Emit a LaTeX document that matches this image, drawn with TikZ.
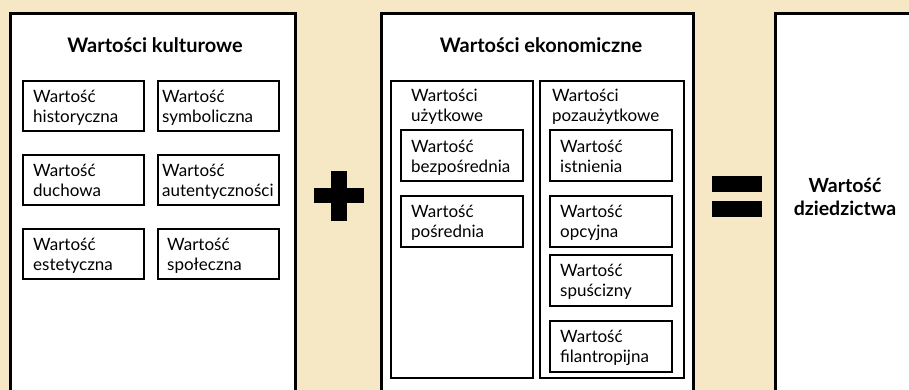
\documentclass[tikz,border=0pt]{standalone}
\usepackage{fontspec}
\setmainfont{Lato}
\definecolor{bg}{HTML}{F6E7C5}
\begin{document}
\begin{tikzpicture}[x=1pt,y=-1pt,
  obox/.style={draw, line width=3pt, fill=white, outer sep=0, inner sep=0, anchor=north west},
  ibox/.style={draw, line width=2pt, outer sep=0, inner sep=0, anchor=north west},
  lbl/.style={anchor=base west, inner sep=0, align=left, font=\fontsize{17}{20}\selectfont},
  ttl/.style={anchor=base, inner sep=0, align=center, font=\bfseries\fontsize{20}{22.5}\selectfont},
  bar/.style={fill=black, inner sep=0, outer sep=0}]
\useasboundingbox (0,0) rectangle (909,390);
\fill[bg] (0,0) rectangle (909,390);
% outer panels
\node[obox, minimum width=285pt, minimum height=377pt] (kult) at (10,14) {};
\node[obox, minimum width=312pt, minimum height=377.5pt] (ekon) at (381,13.5) {};
\node[obox, minimum width=140pt, minimum height=377.2pt] (dzie) at (775,13.8) {};
% titles
\node[ttl] (tkult) at (155,53) {Wartości kulturowe};
\node[ttl] (tekon) at (541,53) {Wartości ekonomiczne};
\node[ttl, font=\bfseries\fontsize{19.5}{22.5}\selectfont] (tdzie) at (845,215) {Wartość\\dziedzictwa};
% cultural boxes
\node[ibox, minimum width=121pt, minimum height=50pt] (b1) at (23,81) {};
\node[ibox, minimum width=121pt, minimum height=50pt] (b2) at (158,81) {};
\node[ibox, minimum width=121pt, minimum height=50pt] (b3) at (23,155) {};
\node[ibox, minimum width=121pt, minimum height=50pt] (b4) at (158,155) {};
\node[ibox, minimum width=121pt, minimum height=50pt] (b5) at (23,229) {};
\node[ibox, minimum width=121pt, minimum height=50pt] (b6) at (158,229) {};
\node[lbl] (l1) at (33,122.5) {Wartość\\historyczna};
\node[lbl] (l2) at (162,122.5) {Wartość\\symboliczna};
\node[lbl] (l3) at (33,196.5) {Wartość\\duchowa};
\node[lbl] (l4) at (162,196.5) {Wartość\\autentyczności};
\node[lbl] (l5) at (33,270.5) {Wartość\\estetyczna};
\node[lbl] (l6) at (167,270.5) {Wartość\\społeczna};
% economic columns
\node[ibox, minimum width=142pt, minimum height=297pt] (colu) at (391,81) {};
\node[ibox, minimum width=144pt, minimum height=297pt] (coln) at (539.5,81) {};
\node[lbl] (lu) at (411,121.5) {Wartości\\użytkowe};
\node[lbl] (ln) at (552,121.5) {Wartości\\pozaużytkowe};
\node[ibox, minimum width=121.5pt, minimum height=50.5pt] (e1) at (401,130.3) {};
\node[ibox, minimum width=121.5pt, minimum height=51pt] (e2) at (401,196) {};
\node[lbl] (le1) at (411,172) {Wartość\\bezpośrednia};
\node[lbl] (le2) at (411,237.5) {Wartość\\pośrednia};
\node[ibox, minimum width=122pt, minimum height=51pt] (n1) at (550,130) {};
\node[ibox, minimum width=122pt, minimum height=51pt] (n2) at (550,196) {};
\node[ibox, minimum width=122pt, minimum height=51pt] (n3) at (550,255) {};
\node[ibox, minimum width=122pt, minimum height=51pt] (n4) at (550,321) {};
\node[lbl] (ln1) at (560,172) {Wartość\\istnienia};
\node[lbl] (ln2) at (560,237.5) {Wartość\\opcyjna};
\node[lbl] (ln3) at (560,296.5) {Wartość\\spuścizny};
\node[lbl] (ln4) at (560,362.5) {Wartość\\filantropijna};
% plus sign
\node[bar, minimum width=50pt, minimum height=15pt] (plush) at (339,195.5) {};
\node[bar, minimum width=16pt, minimum height=50pt] (plusv) at (339,196) {};
% equals sign
\node[bar, minimum width=50pt, minimum height=16pt] (eq1) at (737,184) {};
\node[bar, minimum width=50pt, minimum height=16pt] (eq2) at (737,209) {};
\end{tikzpicture}
\end{document}
